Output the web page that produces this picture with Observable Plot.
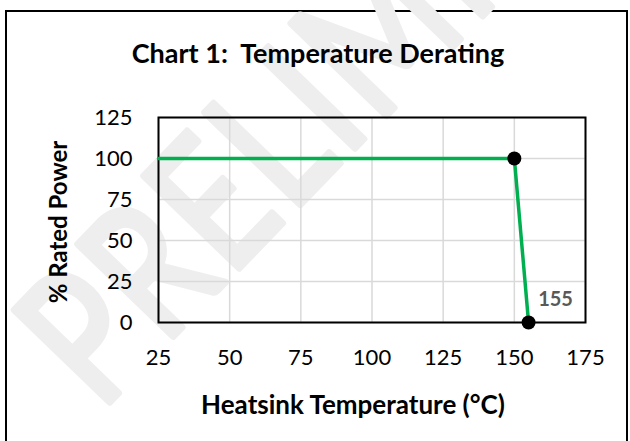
<!DOCTYPE html>
<html>
<head>
<meta charset="utf-8">
<script src="https://cdn.jsdelivr.net/npm/d3@7"></script>
<script src="https://cdn.jsdelivr.net/npm/@observablehq/plot@0.6"></script>
<style>
  html, body { margin: 0; padding: 0; background: #fff; }
  #wrap { position: relative; width: 630px; height: 441px; overflow: hidden; }
  #box { position: absolute; left: 5px; top: 10px; width: 623px; height: 460px; border: 2px solid #000; box-sizing: border-box; }
  #chart { position: absolute; left: 0; top: 0; }
  #chart text { white-space: pre; }
</style>
</head>
<body>
<div id="wrap">
  <div id="box"></div>
  <div id="chart"></div>
</div>
<script>
const titleText = "Chart 1:  Temperature Derating";
const xLabel = "Heatsink Temperature (°C)";
const yLabel = "% Rated Power";
const watermark = "PRELIMINARY";
const temps = [25, 150, 155];
const power = [100, 100, 0];
const xTicks = [25, 50, 75, 100, 125, 150, 175];
const yTicks = [0, 25, 50, 75, 100, 125];
const markerTemps = [150, 155];
const markerPower = [100, 0];
const labelTemp = [155];
const labelPower = [0];
const labelText = ["155"];

const line = temps.map((t, i) => ({t, p: power[i]}));
const markers = markerTemps.map((t, i) => ({t, p: markerPower[i]}));
const labels = labelTemp.map((t, i) => ({t, p: labelPower[i], s: labelText[i]}));

const font = "Lato, 'Open Sans', sans-serif";

const chart = Plot.plot({
  width: 630,
  height: 441,
  marginLeft: 158,
  marginRight: 45,
  marginTop: 117,
  marginBottom: 119,
  style: { fontFamily: font, fontSize: "22px", color: "#000", background: "transparent", overflow: "visible" },
  x: { domain: [25, 175], ticks: xTicks, label: null },
  y: { domain: [0, 125], ticks: yTicks, label: null },
  marks: [
    Plot.gridX(xTicks, { stroke: "#d9d9d9", strokeOpacity: 1, strokeWidth: 1.5 }),
    Plot.gridY(yTicks, { stroke: "#d9d9d9", strokeOpacity: 1, strokeWidth: 1.5 }),
    Plot.frame({ stroke: "#000", strokeWidth: 2 }),
    Plot.axisX(xTicks, { tickSize: 0, tickPadding: 27, fontSize: 22, fill: "#000" }),
    Plot.axisY(yTicks, { tickSize: 0, tickPadding: 26, fontSize: 22, fill: "#000" }),
    Plot.line(line, { x: "t", y: "p", stroke: "#00b050", strokeWidth: 3.5 }),
    Plot.dot(markers, { x: "t", y: "p", r: 7, fill: "#000", stroke: "none" }),
    Plot.text(labels, { x: "t", y: "p", text: "s", dx: 27, dy: -23, fontWeight: "bold", fontSize: 20, fill: "#595959" }),
    Plot.text([titleText], { frameAnchor: "top", lineAnchor: "middle", dy: -63, fontSize: 27, fontWeight: "bold", fill: "#000", dx: -54 }),
    Plot.text([xLabel], { frameAnchor: "bottom", lineAnchor: "middle", dy: 83, fontSize: 26, fontWeight: "bold", fill: "#000", dx: -19 }),
    Plot.text([yLabel], { frameAnchor: "left", textAnchor: "middle", lineAnchor: "middle", dx: -99, dy: 2, rotate: -90, fontSize: 24, fontWeight: "bold", fill: "#000" })
  ]
});
document.getElementById("chart").appendChild(chart);

// faint watermark behind the chart
const svg = d3.select(chart);
svg.insert("text", ":first-child")
  .attr("x", 0).attr("y", 0)
  .attr("transform", "translate(100,412) rotate(-46) scale(0.78,1)")
  .attr("text-anchor", "start")
  .attr("font-family", font)
  .attr("font-size", 185)
  .attr("font-weight", "normal")
  .attr("fill", "#eeeeee")
  .attr("stroke", "#eeeeee")
  .attr("stroke-width", 7)
  .attr("stroke-linejoin", "round")
  .attr("letter-spacing", 6)
  .text(watermark);
</script>
</body>
</html>
